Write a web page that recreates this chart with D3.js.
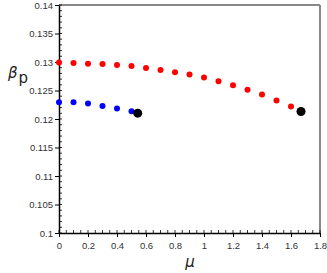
<!DOCTYPE html>
<meta charset="utf-8">
<style>
    body { margin: 0; background: #fff; }
    svg { font-family: "DejaVu Sans", sans-serif; }
    .tick text { fill: #333; font-size: 9.5px; }
</style>
<body>
<script src="https://cdn.jsdelivr.net/npm/d3@7"></script>
<script>
    // data
    var redMu = [0, 0.1, 0.2, 0.3, 0.4, 0.5, 0.6, 0.7, 0.8, 0.9, 1.0, 1.1, 1.2, 1.3, 1.4, 1.5, 1.6];
    var redBeta = [0.1299, 0.12981, 0.12968, 0.12963, 0.12946, 0.12928, 0.12893, 0.12858, 0.12822,
        0.12782, 0.12729, 0.12664, 0.12594, 0.12511, 0.12431, 0.12325, 0.1222];
    var blueMu = [0, 0.1, 0.2, 0.3, 0.4, 0.5];
    var blueBeta = [0.12295, 0.12293, 0.12272, 0.1223, 0.12185, 0.12137];
    var endMu = [0.543, 1.669];
    var endBeta = [0.12102, 0.12132];
    var xTicks = [0, 0.2, 0.4, 0.6, 0.8, 1, 1.2, 1.4, 1.6, 1.8];
    var yTicks = [0.1, 0.105, 0.11, 0.115, 0.12, 0.125, 0.13, 0.135, 0.14];

    var margin = {top: 5, right: 7, bottom: 40, left: 59},
        width = 327 - margin.left - margin.right,
        height = 273 - margin.top - margin.bottom;

    var svg = d3.select("body").append("svg")
        .attr("width", 327)
        .attr("height", 273);

    var g = svg.append("g")
        .attr("transform", "translate(" + margin.left + "," + margin.top + ")");

    var x = d3.scaleLinear().domain([0, 1.8]).range([0, width]);
    var y = d3.scaleLinear().domain([0.1, 0.14]).range([height, 0]);

    // box lines top / right in gray
    g.append("line").attr("x1", 0).attr("x2", width).attr("y1", 0).attr("y2", 0)
        .attr("stroke", "#888").attr("stroke-width", 2);
    g.append("line").attr("x1", width).attr("x2", width).attr("y1", 0).attr("y2", height)
        .attr("stroke", "#888").attr("stroke-width", 2);

    // minor ticks (inward)
    var xMinor = d3.range(0, 1.8001, 0.05);
    var yMinor = d3.range(0.1, 0.14001, 0.001);
    g.append("g").selectAll("line").data(xMinor).enter().append("line")
        .attr("x1", d => x(d)).attr("x2", d => x(d))
        .attr("y1", height).attr("y2", height - 3)
        .attr("stroke", "#000").attr("stroke-width", 0.8);
    g.append("g").selectAll("line").data(yMinor).enter().append("line")
        .attr("x1", 0).attr("x2", 3)
        .attr("y1", d => y(d)).attr("y2", d => y(d))
        .attr("stroke", "#000").attr("stroke-width", 0.8);

    var xAxis = d3.axisBottom(x).tickValues(xTicks).tickSizeInner(4).tickSizeOuter(0)
        .tickFormat(d => d3.format("~g")(d));
    var yAxis = d3.axisLeft(y).tickValues(yTicks).tickSizeInner(4).tickSizeOuter(0)
        .tickFormat(d => d3.format("~g")(d));

    var gx = g.append("g").attr("transform", "translate(0," + height + ")").call(xAxis);
    var gy = g.append("g").call(yAxis);
    gx.select(".domain").attr("stroke-width", 1.5);
    gy.select(".domain").attr("stroke-width", 1.5);
    gx.selectAll(".tick text").attr("dy", "0.9em");
    gy.selectAll(".tick text").attr("dx", "0.1em");

    // points
    g.append("g").selectAll("circle").data(redMu).enter().append("circle")
        .attr("cx", (d, i) => x(d)).attr("cy", (d, i) => y(redBeta[i]))
        .attr("r", 3).attr("fill", "#ff0000");
    g.append("g").selectAll("circle").data(blueMu).enter().append("circle")
        .attr("cx", (d, i) => x(d)).attr("cy", (d, i) => y(blueBeta[i]))
        .attr("r", 3).attr("fill", "#0000ff");
    g.append("g").selectAll("circle").data(endMu).enter().append("circle")
        .attr("cx", (d, i) => x(d)).attr("cy", (d, i) => y(endBeta[i]))
        .attr("r", 4.5).attr("fill", "#000");

    // axis titles
    svg.append("text")
        .attr("x", 190).attr("y", 267)
        .attr("text-anchor", "middle")
        .style("font-size", "15px").style("font-style", "italic").style("fill", "#222")
        .text("μ");
    var yl = svg.append("text")
        .attr("x", 8).attr("y", 78)
        .style("font-size", "15px").style("fill", "#222");
    yl.append("tspan").style("font-style", "italic").text("β");
    yl.append("tspan").attr("dy", 5).attr("dx", 1).text("p");
</script>
</body>
</html>
